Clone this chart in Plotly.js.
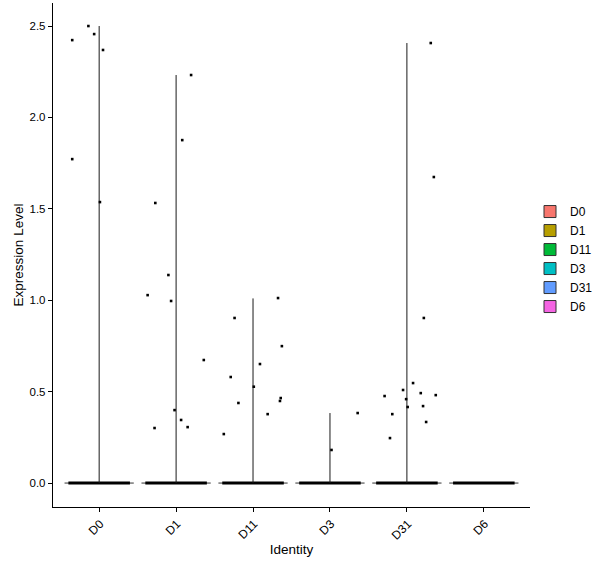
<!DOCTYPE html>
<html>
<head>
<meta charset="utf-8">
<script src="https://cdn.plot.ly/plotly-3.0.1.min.js"></script>
<style>html,body{margin:0;padding:0;background:#fff;}#chart{width:600px;height:568px;}</style>
</head>
<body>
<div id="chart"></div>
<script>
// Categories and colours
const categories = ["D0", "D1", "D11", "D3", "D31", "D6"];
const colors = ["#F8766D", "#B79F00", "#00BA38", "#00BFC4", "#619CFF", "#F564E3"];
const yTicks = [0, 0.5, 1.0, 1.5, 2.0, 2.5];

// Maximum expression per group (violin tail top)
const groupMax = [2.50, 2.232, 1.010, 0.383, 2.407, 0];

// Non-zero expression values per group, and their jitter offsets
const D0_values = [2.423, 2.500, 2.456, 2.369, 1.772, 1.537];
const D0_jitter = [-0.35, -0.14, -0.065, 0.05, -0.35, 0.01];
const D1_values = [2.232, 1.876, 1.532, 1.138, 1.028, 0.996, 0.673, 0.399, 0.345, 0.306, 0.301];
const D1_jitter = [0.195, 0.08, -0.27, -0.10, -0.37, -0.065, 0.36, -0.02, 0.065, 0.15, -0.28];
const D11_values = [1.012, 0.903, 0.749, 0.651, 0.580, 0.527, 0.465, 0.449, 0.438, 0.377, 0.268];
const D11_jitter = [0.325, -0.24, 0.375, 0.09, -0.29, 0.01, 0.36, 0.35, -0.19, 0.19, -0.38];
const D3_values = [0.383, 0.181];
const D3_jitter = [0.36, 0.02];
const D31_values = [2.407, 1.674, 0.903, 0.547, 0.509, 0.476, 0.481, 0.492, 0.459, 0.416, 0.421, 0.377, 0.334, 0.246];
const D31_jitter = [0.31, 0.35, 0.22, 0.08, -0.05, -0.29, 0.375, 0.18, -0.01, 0.01, 0.21, -0.19, 0.25, -0.22];
const D6_values = [];
const D6_jitter = [];

const groupValues = [D0_values, D1_values, D11_values, D3_values, D31_values, D6_values];
const groupJitter = [D0_jitter, D1_jitter, D11_jitter, D3_jitter, D31_jitter, D6_jitter];

const violinHalfWidth = 0.45;
const jitterHalfWidth = 0.40;

const traces = [];
categories.forEach((cat, i) => {
  traces.push({
    type: "scatter", mode: "lines",
    x: [i - violinHalfWidth, i + violinHalfWidth], y: [0, 0],
    line: {color: "#333333", width: 1},
    showlegend: false, hoverinfo: "skip"
  });
  traces.push({
    type: "scatter", mode: "lines",
    x: [i - jitterHalfWidth, i + jitterHalfWidth], y: [0, 0],
    line: {color: "#000000", width: 3},
    showlegend: false, hoverinfo: "skip"
  });
  if (groupMax[i] > 0) {
    traces.push({
      type: "scatter", mode: "lines",
      x: [i, i], y: [0, groupMax[i]],
      line: {color: "#1a1a1a", width: 1},
      showlegend: false, hoverinfo: "skip"
    });
  }
  traces.push({
    type: "scatter", mode: "markers",
    x: groupValues[i].map((v, k) => i + groupJitter[i][k]),
    y: groupValues[i],
    marker: {color: "#000000", size: 2.6, symbol: "square"},
    showlegend: false, hoverinfo: "skip"
  });
});
categories.forEach((cat, i) => {
  traces.push({
    type: "bar", x: [null], y: [null], name: cat,
    marker: {color: colors[i], line: {color: "#333333", width: 1}},
    showlegend: true
  });
});

const layout = {
  width: 600, height: 568,
  margin: {l: 53, r: 70, t: 3, b: 61, autoexpand: false},
  paper_bgcolor: "#ffffff", plot_bgcolor: "#ffffff",
  font: {family: "Liberation Sans, Arial, sans-serif", color: "#000000"},
  xaxis: {
    range: [-0.6, 5.6], tickmode: "array",
    tickvals: categories.map((c, i) => i), ticktext: categories,
    tickangle: -45, showgrid: false, zeroline: false,
    showline: true, linecolor: "#000000", linewidth: 1.2,
    ticks: "outside", ticklen: 4, tickcolor: "#000000",
    ticklabelshift: 1,
    tickfont: {size: 12, color: "#000000"},
    title: {text: "Identity", font: {size: 13.5, color: "#000000"}, standoff: 3}
  },
  yaxis: {
    range: [-0.131, 2.626], tickmode: "array",
    tickvals: yTicks, ticktext: yTicks.map(v => v.toFixed(1)),
    showgrid: false, zeroline: false,
    showline: true, linecolor: "#000000", linewidth: 1.2,
    ticks: "outside", ticklen: 4, tickcolor: "#000000",
    tickfont: {size: 11.5, color: "#000000"},
    title: {text: "Expression Level", font: {size: 13.5, color: "#000000"}, standoff: 2}
  },
  legend: {
    x: 1.0, xanchor: "left", y: 0.492, yanchor: "middle",
    font: {size: 12, color: "#000000"}, bgcolor: "rgba(0,0,0,0)",
    itemwidth: 30, tracegroupgap: 0
  },
  showlegend: true
};

Plotly.newPlot("chart", traces, layout, {displayModeBar: false, staticPlot: true});
</script>
</body>
</html>
